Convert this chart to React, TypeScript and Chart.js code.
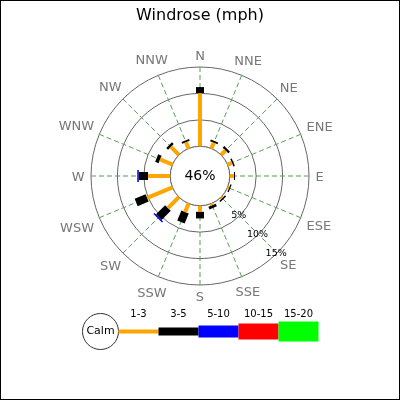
import React, { useEffect, useRef } from "react";
import { Chart, registerables } from "chart.js";

Chart.register(...registerables);
Chart.defaults.font.family = "'DejaVu Sans', sans-serif";

// ---- data ----
const directions = ["N", "NNE", "NE", "ENE", "E", "ESE", "SE", "SSE", "S", "SSW", "SW", "WSW", "W", "WNW", "NW", "NNW"];
const speedBins = ["1-3", "3-5", "5-10", "10-15", "15-20"];
const binColors = ["#FFA500", "#000000", "#0000FF", "#FF0000", "#00FF00"];
// percent of observations per direction for each speed bin (segment lengths)
const pct1to3 = [10.05, 1.2, 1.2, 0.9, 0.8, 0.3, 0.3, 0.35, 1.15, 1.75, 2.95, 5.2, 4.2, 2.55, 2.15, 1.3];
const pct3to5 = [1.15, 0.35, 0.45, 0.3, 0.2, 0.25, 0.3, 0.55, 1.25, 2.05, 2.45, 2.25, 1.75, 0.7, 0.5, 0.35];
const pct5to10 = [0, 0, 0, 0, 0, 0, 0, 0, 0, 0, 0.3, 0, 0.3, 0, 0, 0];
const pct10to15 = [0, 0, 0, 0, 0, 0, 0, 0, 0, 0, 0, 0, 0, 0, 0, 0];
const pct15to20 = [0, 0, 0, 0, 0, 0, 0, 0, 0, 0, 0, 0, 0, 0, 0, 0];
const calmPct = 46;
const ringTicks = [0, 5, 10, 15];
const tickLabels = ["5%", "10%", "15%"];

// ---- style ----
const binWidths = [4, 8, 12, 16, 20];
const calmOffset = 5.625; // scale units hidden inside the calm circle
const rMax = 15;

export default function App() {
  const ref = useRef<HTMLCanvasElement>(null);

  useEffect(() => {
    document.body.style.margin = "0";
    const series = [pct1to3, pct3to5, pct5to10, pct10to15, pct15to20];
    const halfLen = (chart: any, v: number) => {
      const s = chart.scales.r;
      return v > 0 ? (v * s.drawingArea) / (s.max - s.min) / 2 : 0;
    };
    const datasets = series.map((vals, k) => ({
      label: speedBins[k],
      data: vals.map((v, i) => {
        if (!(v > 0)) return null;
        let start = 0;
        for (let j = 0; j < k; j++) start += series[j][i];
        return start + v / 2;
      }),
      showLine: false,
      fill: false,
      borderWidth: 0,
      borderColor: binColors[k],
      backgroundColor: binColors[k],
      pointStyle: "line",
      pointRotation: (c: any) => (c.dataIndex * 360) / directions.length - 90,
      pointRadius: (c: any) => halfLen(c.chart, vals[c.dataIndex]),
      pointHoverRadius: (c: any) => halfLen(c.chart, vals[c.dataIndex]),
      pointBorderWidth: binWidths[k],
      pointHoverBorderWidth: binWidths[k],
      pointBorderColor: binColors[k],
      pointBackgroundColor: binColors[k],
      pointHoverBorderColor: binColors[k],
      pointHoverBackgroundColor: binColors[k],
    }));

    const calmPlugin = {
      id: "calm",
      beforeDatasetsDraw(chart: any) {
        const s = chart.scales.r;
        const ctx = chart.ctx;
        const r0 = s.getDistanceFromCenterForValue(0);
        ctx.save();
        ctx.beginPath();
        ctx.arc(s.xCenter, s.yCenter, r0, 0, Math.PI * 2);
        ctx.fillStyle = "#fff";
        ctx.fill();
        ctx.lineWidth = 1;
        ctx.strokeStyle = "#666";
        ctx.stroke();
        ctx.fillStyle = "#000";
        ctx.font = "14px 'DejaVu Sans'";
        ctx.textAlign = "center";
        ctx.textBaseline = "middle";
        ctx.fillText(`${calmPct}%`, s.xCenter, s.yCenter);
        // ring labels along the SE spoke
        ctx.font = "9.5px 'DejaVu Sans'";
        ctx.textBaseline = "alphabetic";
        ringTicks.slice(1).forEach((v, i) => {
          const p = s.getPointPositionForValue(6, v - 0.25);
          ctx.fillText(tickLabels[i], p.x, p.y + 3.5);
        });
        // direction labels just outside the outer ring
        const size = 13;
        const cap = 0.729 * size;
        ctx.font = `${size}px 'DejaVu Sans'`;
        ctx.fillStyle = "#777";
        const R0 = s.drawingArea + 7;
        directions.forEach((lab, i) => {
          const a = (i * 2 * Math.PI) / directions.length;
          const sn = Math.sin(a);
          const cs = Math.cos(a);
          const w = ctx.measureText(lab).width - 1;
          const d = R0 + (Math.abs(sn) * w) / 2 + (Math.abs(cs) * cap) / 2;
          const x = s.xCenter + d * sn;
          const y = s.yCenter - d * cs;
          ctx.fillText(lab, x, y + cap / 2);
        });
        ctx.restore();
      },
    };

    const legendPlugin = {
      id: "windLegend",
      afterDraw(chart: any) {
        const ctx = chart.ctx;
        const cy = 331.5;
        const cx = 100.5;
        const cr = 18;
        const segLen = 40;
        ctx.save();
        ctx.beginPath();
        ctx.arc(cx, cy, cr, 0, Math.PI * 2);
        ctx.fillStyle = "#fff";
        ctx.fill();
        ctx.lineWidth = 1;
        ctx.strokeStyle = "#333";
        ctx.stroke();
        ctx.fillStyle = "#000";
        ctx.textAlign = "center";
        ctx.textBaseline = "middle";
        ctx.font = "11px 'DejaVu Sans'";
        ctx.fillText("Calm", cx, cy);
        ctx.font = "10px 'DejaVu Sans'";
        speedBins.forEach((lab, k) => {
          const x0 = cx + cr + k * segLen;
          ctx.beginPath();
          ctx.moveTo(x0, cy);
          ctx.lineTo(x0 + segLen, cy);
          ctx.lineWidth = binWidths[k];
          ctx.strokeStyle = binColors[k];
          ctx.lineCap = "butt";
          ctx.stroke();
          ctx.fillStyle = "#000";
          ctx.fillText(lab, x0 + segLen / 2, 314);
        });
        ctx.restore();
      },
    };

    const chart = new Chart(ref.current as HTMLCanvasElement, {
      type: "radar",
      data: { labels: directions, datasets: datasets as any },
      options: {
        responsive: false,
        animation: false,
        events: [],
        layout: { padding: { top: 0, left: 91, right: 91, bottom: 115 } },
        plugins: {
          legend: { display: false },
          tooltip: { enabled: false },
          title: {
            display: true,
            text: "Windrose (mph)",
            color: "#000",
            font: { size: 16, weight: "normal", lineHeight: 1.25 },
            padding: { top: 6, bottom: 41 },
          },
        },
        scales: {
          r: {
            min: -calmOffset,
            max: rMax,
            afterBuildTicks: (s: any) => {
              s.ticks = ringTicks.map((v) => ({ value: v }));
            },
            ticks: { display: false },
            grid: { circular: true, color: "#666", lineWidth: 1 },
            angleLines: { display: true, color: "rgb(85,160,85)", lineWidth: 1, borderDash: [5, 3] },
            pointLabels: { display: false },
          },
        },
      } as any,
      plugins: [calmPlugin, legendPlugin],
    });
    return () => chart.destroy();
  }, []);

  return (
    <div style={{ position: "fixed", left: 0, top: 0, width: 400, height: 400, background: "#fff" }}>
      <canvas ref={ref} width={400} height={400} style={{ display: "block", width: 400, height: 400 }} />
      <div
        style={{
          position: "absolute",
          left: 0,
          top: 0,
          width: 400,
          height: 400,
          boxSizing: "border-box",
          border: "1px solid #000",
          pointerEvents: "none",
        }}
      />
    </div>
  );
}
